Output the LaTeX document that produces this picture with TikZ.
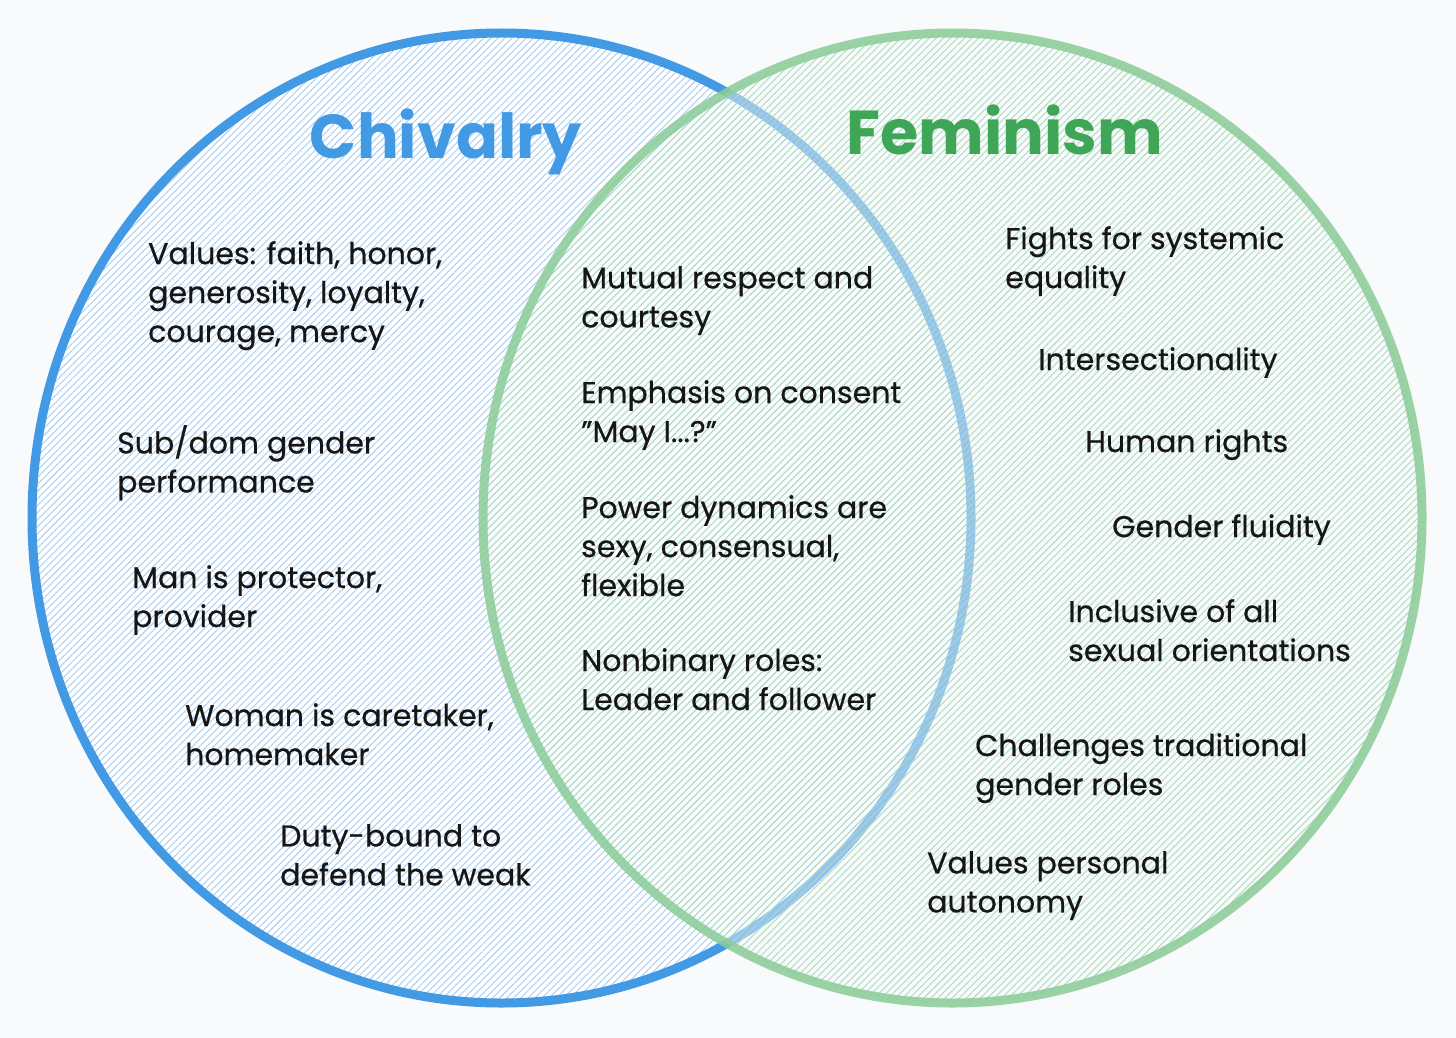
\documentclass[tikz,border=0pt]{standalone}
\usepackage{fontspec}
\setmainfont{Poppins}
\usetikzlibrary{patterns.meta}

\definecolor{paper}{RGB}{248,250,251}
\definecolor{chvblue}{RGB}{66,153,228}
\definecolor{chvhatch}{RGB}{165,204,242}
\definecolor{femgreen}{RGB}{138,204,152}
\definecolor{femtitle}{RGB}{62,166,86}
\definecolor{femhatch}{RGB}{170,218,190}
\definecolor{ink}{RGB}{22,22,22}

\begin{document}
\begin{tikzpicture}[
  x=1pt, y=-1pt,
  lbl/.style = {anchor=north west, inner sep=0pt, align=left,
                font=\fontsize{30}{39}\selectfont\addfontfeature{FakeBold=0.6}, text=ink},
  ttl/.style = {inner sep=0pt, font=\fontsize{62}{62}\selectfont\bfseries}
]

% ---- background ----
\fill[paper] (0,0) rectangle (1456,1038);
\useasboundingbox (0,0) rectangle (1456,1038);

% ---- LEFT SET: Chivalry ----
\fill[white] (501.5,518) ellipse [x radius=469.5pt, y radius=485pt];
\fill[pattern={Lines[angle=45, distance=5pt, line width=0.9pt]},
      pattern color=chvhatch] (501.5,518) ellipse [x radius=469.5pt, y radius=485pt];
\draw[chvblue, line width=9pt] (501.5,518) ellipse [x radius=469.5pt, y radius=485pt];

% ---- RIGHT SET: Feminism ----
\fill[paper, fill opacity=0.45] (952.5,518) ellipse [x radius=469.5pt, y radius=485pt];
\fill[pattern={Lines[angle=45, distance=5pt, line width=0.9pt]},
      pattern color=femhatch] (952.5,518) ellipse [x radius=469.5pt, y radius=485pt];
\draw[femgreen, line width=9pt, opacity=0.85] (952.5,518) ellipse [x radius=469.5pt, y radius=485pt];

% ---- titles ----
\node[ttl, text=chvblue]  (chv) at (446,142) {Chivalry};
\node[ttl, text=femtitle] (fem) at (1005,130) {Feminism};

% ---- chivalry only ----
\node[lbl] (c1) at (148,241) {Values: faith, honor,\\generosity, loyalty,\\courage, mercy};
\node[lbl] (c2) at (117,425) {Sub/dom gender\\performance};
\node[lbl] (c3) at (132,565) {Man is protector,\\provider};
\node[lbl] (c4) at (185,703) {Woman is caretaker,\\homemaker};
\node[lbl] (c5) at (280,824) {Duty-bound to\\defend the weak};

% ---- shared ----
\node[lbl] (m1) at (581,266) {Mutual respect and\\courtesy};
\node[lbl] (m2) at (581,380) {Emphasis on consent\\\char34 May I...?\char34};
\node[lbl] (m3) at (581,495) {Power dynamics are\\sexy, consensual,\\flexible};
\node[lbl] (m4) at (581,648) {Nonbinary roles:\\Leader and follower};

% ---- feminism only ----
\node[lbl] (f1) at (1005,226) {Fights for systemic\\equality};
\node[lbl] (f2) at (1038,347) {Intersectionality};
\node[lbl] (f3) at (1085,429) {Human rights};
\node[lbl] (f4) at (1112,514) {Gender fluidity};
\node[lbl] (f5) at (1068,599) {Inclusive of all\\sexual orientations};
\node[lbl] (f6) at (975,733) {Challenges traditional\\gender roles};
\node[lbl] (f7) at (927,851) {Values personal\\autonomy};

\end{tikzpicture}
\end{document}
